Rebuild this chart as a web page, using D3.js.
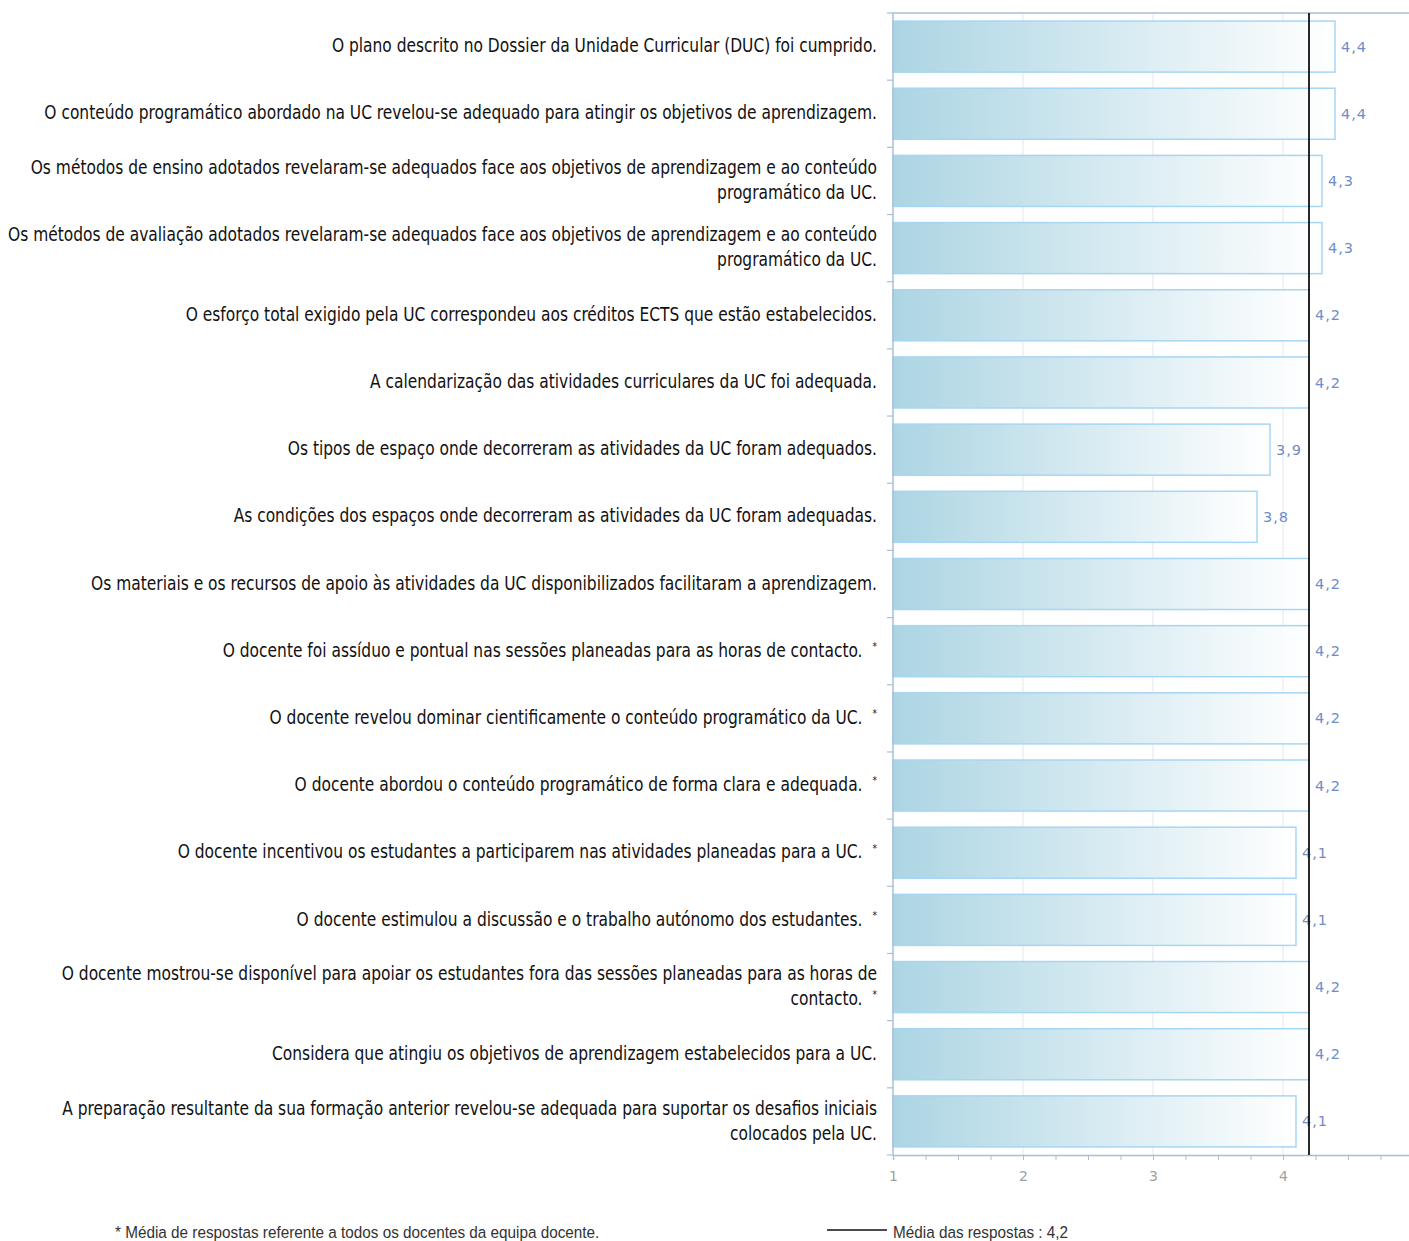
<!DOCTYPE html>
<html>
<head>
<meta charset="utf-8">
<script src="https://cdn.jsdelivr.net/npm/d3@7"></script>
<style>
  body { margin: 0; background: #fff; }
  svg { display: block; }
</style>
</head>
<body>
<svg id="chart" width="1409" height="1241"></svg>
<script>
// questions, split in lines where the original wraps them; star = answer averaged over teaching team
const questions = [
  ["O plano descrito no Dossier da Unidade Curricular (DUC) foi cumprido."],
  ["O conteúdo programático abordado na UC revelou-se adequado para atingir os objetivos de aprendizagem."],
  ["Os métodos de ensino adotados revelaram-se adequados face aos objetivos de aprendizagem e ao conteúdo", "programático da UC."],
  ["Os métodos de avaliação adotados revelaram-se adequados face aos objetivos de aprendizagem e ao conteúdo", "programático da UC."],
  ["O esforço total exigido pela UC correspondeu aos créditos ECTS que estão estabelecidos."],
  ["A calendarização das atividades curriculares da UC foi adequada."],
  ["Os tipos de espaço onde decorreram as atividades da UC foram adequados."],
  ["As condições dos espaços onde decorreram as atividades da UC foram adequadas."],
  ["Os materiais e os recursos de apoio às atividades da UC disponibilizados facilitaram a aprendizagem."],
  ["O docente foi assíduo e pontual nas sessões planeadas para as horas de contacto."],
  ["O docente revelou dominar cientificamente o conteúdo programático da UC."],
  ["O docente abordou o conteúdo programático de forma clara e adequada."],
  ["O docente incentivou os estudantes a participarem nas atividades planeadas para a UC."],
  ["O docente estimulou a discussão e o trabalho autónomo dos estudantes."],
  ["O docente mostrou-se disponível para apoiar os estudantes fora das sessões planeadas para as horas de", "contacto."],
  ["Considera que atingiu os objetivos de aprendizagem estabelecidos para a UC."],
  ["A preparação resultante da sua formação anterior revelou-se adequada para suportar os desafios iniciais", "colocados pela UC."]
];
const starred = [false, false, false, false, false, false, false, false, false, true, true, true, true, true, true, false, false];
const values = [4.4, 4.4, 4.3, 4.3, 4.2, 4.2, 3.9, 3.8, 4.2, 4.2, 4.2, 4.2, 4.1, 4.1, 4.2, 4.2, 4.1];
const meanValue = 4.2;
const xTicks = [1, 2, 3, 4];
const footnote = "* Média de respostas referente a todos os docentes da equipa docente.";
const legendLabel = "Média das respostas : 4,2";

const svg = d3.select("#chart");
const plotLeft = 893, plotTop = 13, plotBottom = 1155;
const labelFont = "'DejaVu Sans Condensed', 'DejaVu Sans', sans-serif";
const footFont = "'Liberation Sans', Arial, sans-serif";

const x = d3.scaleLinear().domain([1, 5]).range([plotLeft, plotLeft + 520]);
const y = d3.scaleBand().domain(d3.range(questions.length)).range([plotTop, plotBottom])
  .paddingInner(0.24).paddingOuter(0.12);

const fmt = v => v.toFixed(1).replace(".", ",");

// bar gradient, dark blue on the left fading to white
const grad = svg.append("defs").append("linearGradient").attr("id", "barGrad");
grad.append("stop").attr("offset", "0%").attr("stop-color", "#acd5e3");
grad.append("stop").attr("offset", "100%").attr("stop-color", "#ffffff");

// vertical grid lines
svg.append("g").selectAll("line")
  .data(xTicks.slice(1))
  .join("line")
  .attr("x1", d => x(d)).attr("x2", d => x(d))
  .attr("y1", plotTop).attr("y2", plotBottom)
  .attr("stroke", "#e3ecf4").attr("stroke-width", 1.2);

// bars
svg.append("g").selectAll("rect")
  .data(values)
  .join("rect")
  .attr("x", x(1))
  .attr("y", (d, i) => y(i))
  .attr("width", d => x(d) - x(1))
  .attr("height", y.bandwidth())
  .attr("fill", "url(#barGrad)")
  .attr("stroke", "#a6d6f5")
  .attr("stroke-width", 1.5);

// value labels
svg.append("g").selectAll("text")
  .data(values)
  .join("text")
  .attr("x", d => x(d) + 6)
  .attr("y", (d, i) => y(i) + y.bandwidth() / 2)
  .attr("dy", "0.35em")
  .attr("font-family", "'DejaVu Sans', sans-serif")
  .attr("font-size", 14.5)
  .attr("letter-spacing", 1)
  .attr("fill", "#6f8cc6")
  .text(d => fmt(d));

// axes
const axisColor = "#a9bfd6";
svg.append("line").attr("x1", plotLeft).attr("x2", 1409).attr("y1", plotTop).attr("y2", plotTop)
  .attr("stroke", axisColor).attr("stroke-width", 1.5);
svg.append("line").attr("x1", plotLeft).attr("x2", plotLeft).attr("y1", plotTop).attr("y2", plotBottom)
  .attr("stroke", axisColor).attr("stroke-width", 1.5);

// left ticks on category boundaries
svg.append("g").selectAll("line")
  .data(d3.range(questions.length + 1))
  .join("line")
  .attr("x1", plotLeft - 6).attr("x2", plotLeft)
  .attr("y1", i => plotTop + i * y.step()).attr("y2", i => plotTop + i * y.step())
  .attr("stroke", axisColor).attr("stroke-width", 1.2);

const xAxis = svg.append("g")
  .attr("transform", `translate(0,${plotBottom})`)
  .call(d3.axisBottom(x).tickValues(d3.range(1, 5.01, 0.25)).tickSize(5).tickFormat(d => Number.isInteger(d) && d < 5 ? d : ""));
xAxis.select(".domain").attr("stroke", axisColor).attr("stroke-width", 1.5);
xAxis.selectAll(".tick line").attr("stroke", axisColor);
xAxis.selectAll(".tick text")
  .attr("fill", "#a0a0a0")
  .attr("font-family", "'DejaVu Sans', sans-serif")
  .attr("font-size", 14)
  .attr("dy", "1.3em");

// mean line
svg.append("line")
  .attr("x1", x(meanValue)).attr("x2", x(meanValue))
  .attr("y1", plotTop).attr("y2", plotBottom)
  .attr("stroke", "#111").attr("stroke-width", 1.8);

// question labels, squeezed horizontally to mimic the narrow original typeface
const labels = svg.append("g").selectAll("text")
  .data(questions)
  .join("text")
  .attr("text-anchor", "end")
  .attr("font-family", labelFont)
  .attr("font-size", 19)
  .attr("fill", "#111")
  .attr("transform", (d, i) => `translate(877,${y(i) + y.bandwidth() / 2}) scale(0.905,1)`);

labels.each(function(lines, i) {
  const t = d3.select(this);
  const n = lines.length;
  lines.forEach((ln, k) => {
    const isLast = k === n - 1;
    t.append("tspan")
      .attr("x", starred[i] && isLast ? -16 : 0)
      .attr("y", (k - (n - 1) / 2) * 25 - 1)
      .attr("dy", "0.35em")
      .text(ln);
    if (starred[i] && isLast) {
      t.append("tspan")
        .attr("x", 0)
        .attr("y", (k - (n - 1) / 2) * 25 - 5)
        .attr("dy", "0.35em")
        .attr("font-size", 11)
        .text("*");
    }
  });
});

// footer
svg.append("text")
  .attr("transform", "translate(115,1238) scale(0.9,1)")
  .attr("font-family", footFont)
  .attr("font-size", 17)
  .attr("fill", "#333")
  .text(footnote);

svg.append("line")
  .attr("x1", 827).attr("x2", 887).attr("y1", 1230).attr("y2", 1230)
  .attr("stroke", "#111").attr("stroke-width", 1.5);
svg.append("text")
  .attr("transform", "translate(893,1238) scale(0.9,1)")
  .attr("font-family", footFont)
  .attr("font-size", 17)
  .attr("fill", "#333")
  .text(legendLabel);
</script>
</body>
</html>
